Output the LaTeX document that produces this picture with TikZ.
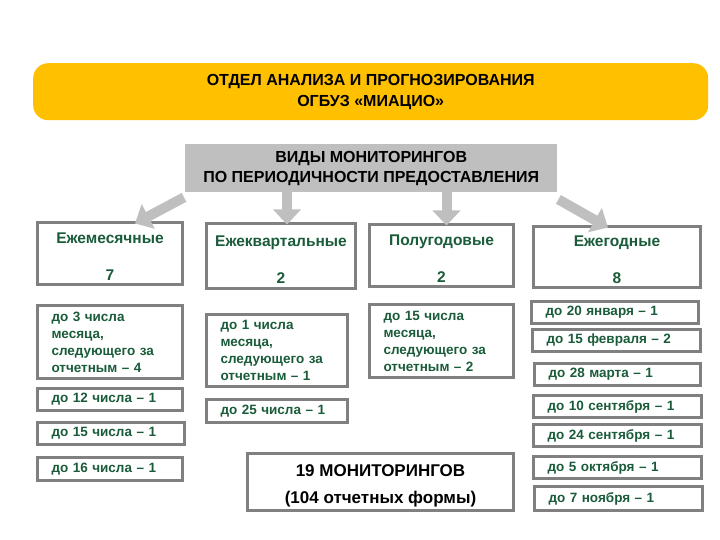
\documentclass[tikz,border=0pt]{standalone}
\usepackage{fontspec}
\setmainfont{Liberation Sans}
\usetikzlibrary{arrows.meta}
\definecolor{gold}{HTML}{FFC000}
\definecolor{lgray}{HTML}{BFBFBF}
\definecolor{bgray}{HTML}{808080}
\definecolor{dgreen}{HTML}{1A5C3A}
\newcommand{\catstrut}{\rule{0pt}{17pt}}
\tikzset{
  box/.style={draw=bgray, line width=3pt, fill=white, inner sep=0pt, outer sep=0pt, anchor=north west},
  cat/.style={box, text=dgreen, align=center, font=\bfseries\fontsize{15.5}{17}\selectfont},
  det/.style={box, text=dgreen, align=left, inner xsep=14pt, font=\bfseries\fontsize{13.5}{17}\selectfont},
  arr/.style={draw=lgray, line width=10pt, -{Triangle[width=27pt,length=15pt]}},
}
\begin{document}
\begin{tikzpicture}[x=1pt,y=-1pt]
\useasboundingbox (0,0) rectangle (720,540);
% header
\node[fill=gold, rounded corners=15pt, minimum width=675pt, minimum height=57pt, anchor=north west,
      align=center, font=\bfseries\fontsize{16}{21}\selectfont, inner sep=0pt] (head) at (33,63)
  {ОТДЕЛ АНАЛИЗА И ПРОГНОЗИРОВАНИЯ\\ОГБУЗ «МИАЦИО»};
% gray box
\node[fill=lgray, minimum width=372pt, minimum height=48pt, anchor=north west,
      align=center, font=\bfseries\fontsize{16}{20}\selectfont, inner sep=0pt] (gray) at (185,144)
  {ВИДЫ МОНИТОРИНГОВ\\ПО ПЕРИОДИЧНОСТИ ПРЕДОСТАВЛЕНИЯ};
% categories
\node[cat, minimum width=145pt, minimum height=62pt] (m) at (37.5,222.5) {\catstrut Ежемесячные\\[20pt]7};
\node[cat, minimum width=149pt, minimum height=65pt] (q) at (206.5,223.5) {\catstrut Ежеквартальные\\[20pt]2};
\node[cat, minimum width=144pt, minimum height=62pt] (h) at (369.5,224.5) {\catstrut Полугодовые\\[20pt]2};
\node[cat, minimum width=167pt, minimum height=61pt] (y) at (533.5,226.5) {\catstrut Ежегодные\\[20pt]8};
% arrows
\draw[arr] ([xshift=-1pt,yshift=-5pt]gray.south west) -- ([xshift=25pt,yshift=-1pt]m.north);
\draw[arr] ([xshift=6pt]q.north |- gray.south) -- ([xshift=6pt,yshift=-1pt]q.north);
\draw[arr] ([xshift=5pt]h.north |- gray.south) -- ([xshift=5pt,yshift=-1pt]h.north);
\draw[arr] ([xshift=1pt,yshift=-7pt]gray.south east) -- ([xshift=-9pt,yshift=-1pt]y.north);
% monthly details
\node[det, minimum width=145pt, minimum height=73pt, text width=117pt] (m1) at (37.5,305.5)
  {до 3 числа\\месяца,\\следующего за\\отчетным – 4};
\node[det, minimum width=145pt, minimum height=22pt, text width=117pt] (m2) at (37.5,388.5) {до 12 числа – 1};
\node[det, minimum width=147pt, minimum height=22pt, text width=119pt] (m3) at (37.5,422.5) {до 15 числа – 1};
\node[det, minimum width=145pt, minimum height=23pt, text width=117pt] (m4) at (37.5,457.5) {до 16 числа – 1};
% quarterly details
\node[det, minimum width=141pt, minimum height=72pt, text width=113pt] (q1) at (206.5,314.5)
  {до 1 числа\\месяца,\\следующего за\\отчетным – 1};
\node[det, minimum width=141pt, minimum height=23pt, text width=113pt] (q2) at (206.5,399.5) {до 25 числа – 1};
% half-year details
\node[det, minimum width=144pt, minimum height=73pt, text width=116pt] (h1) at (369.5,304.5)
  {до 15 числа\\месяца,\\следующего за\\отчетным – 2};
% yearly details
\node[det, minimum width=167pt, minimum height=22pt, text width=139pt] (y1) at (531.5,301.5) {до 20 января – 1};
\node[det, minimum width=168pt, minimum height=22pt, text width=140pt] (y2) at (532.5,329.5) {до 15 февраля – 2};
\node[det, minimum width=166pt, minimum height=22pt, text width=138pt] (y3) at (534.5,363.5) {до 28 марта – 1};
\node[det, minimum width=168pt, minimum height=22pt, text width=140pt] (y4) at (533.5,395.5) {до 10 сентября – 1};
\node[det, minimum width=168pt, minimum height=22pt, text width=140pt] (y5) at (533.5,424.5) {до 24 сентября – 1};
\node[det, minimum width=168pt, minimum height=22pt, text width=140pt] (y6) at (533.5,456.5) {до 5 октября – 1};
\node[det, minimum width=168pt, minimum height=24pt, text width=140pt] (y7) at (534.5,486.5) {до 7 ноября – 1};
% summary
\node[box, minimum width=266pt, minimum height=57pt, align=center, text=black,
      font=\bfseries\fontsize{17}{27}\selectfont] (sum) at (247.5,453.5)
  {\rule{0pt}{19pt}19 МОНИТОРИНГОВ\\(104 отчетных формы)};
\end{tikzpicture}
\end{document}
